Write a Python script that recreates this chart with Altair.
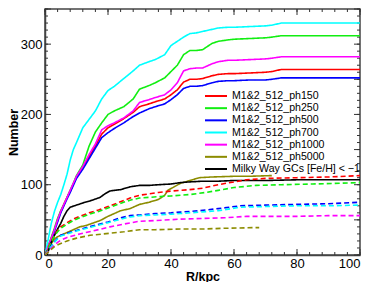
import altair as alt
import pandas as pd

# ---------------- data ----------------
names = ["M1&2_512_ph150", "M1&2_512_ph250", "M1&2_512_ph500", "M1&2_512_ph700",
         "M1&2_512_ph1000", "M1&2_512_ph5000", "Milky Way GCs [Fe/H] < \u22121"]
colors = ["#ff0000", "#11ee11", "#0000ff", "#00ffff", "#ff00ff", "#8c8c00", "#000000"]

R_main = [0, 1, 2, 3, 4, 5, 6, 7, 8, 9, 10, 12, 14, 16, 18, 20, 22, 25, 28, 30, 33, 35, 38,
          40, 42, 44, 46, 48, 50, 53, 55, 58, 60, 65, 70, 72, 75, 80, 90, 100]
N_ph150 = [0, 12, 24, 36, 50, 62, 72, 82, 91, 101, 111, 125, 140, 155, 172, 181, 186, 194, 203,
           211, 215, 218, 222, 228, 235, 246, 250, 250, 251, 255, 257, 258, 258, 259, 260, 261,
           264, 264, 264, 264]
N_ph250 = [0, 12, 25, 38, 52, 63, 72, 82, 92, 102, 113, 128, 155, 175, 188, 200, 205, 211, 222,
           236, 241, 245, 252, 261, 270, 285, 291, 291, 292, 301, 304, 306, 307, 308, 309, 310,
           312, 312, 312, 312]
N_ph500 = [0, 10, 22, 34, 47, 60, 70, 80, 89, 99, 109, 122, 137, 152, 167, 174, 180, 188, 197,
           202, 208, 211, 215, 221, 228, 237, 240, 240, 241, 245, 247, 248, 248, 249, 249, 250,
           252, 252, 252, 252]
N_ph700 = [0, 22, 45, 62, 75, 86, 100, 115, 135, 150, 160, 181, 193, 205, 222, 234, 240, 251, 262,
           270, 275, 278, 285, 298, 304, 310, 315, 316, 318, 321, 323, 324, 324, 325, 326, 327,
           330, 330, 330, 330]
N_ph1000 = [0, 12, 24, 36, 50, 62, 72, 82, 92, 102, 112, 126, 143, 158, 178, 184, 188, 195, 205,
            217, 221, 224, 228, 235, 245, 262, 265, 266, 266, 272, 275, 277, 277, 278, 279, 280,
            282, 282, 282, 282]

R_ph5000 = [0, 1, 2, 3, 4, 5, 7, 9, 11, 13, 15, 17.5, 20, 22, 24, 27, 30, 33, 36, 38, 39, 41,
            43, 46, 49, 53, 60, 65, 72]
N_ph5000 = [0, 8, 16, 23, 26, 28, 32, 36, 40, 42, 45, 49, 55, 59, 63, 66, 72, 75, 79, 85, 92, 97,
            102, 106, 110, 111, 112, 112, 113]

R_mw = [0, 0.6, 1, 2, 3, 4, 5, 6, 7, 8, 10, 12, 15, 17.5, 19, 20.6, 22, 24, 27, 30, 33, 36, 40,
        43, 46, 50, 55, 60, 70, 80, 90, 100]
N_mw = [0, 0, 5, 18, 28, 37, 45, 55, 63, 68, 71, 74, 78, 82, 87, 91, 92, 93, 97, 99, 99, 100,
        101, 103, 104, 105, 105, 106, 106, 107, 107, 107]

# dashed curves
R_d150 = [0, 1, 2, 3, 4, 5, 7, 9, 11, 14, 17, 20, 23, 27, 30, 33, 36, 40, 43, 46, 50, 55, 60, 64,
          70, 80, 90, 100]
N_d150 = [0, 10, 20, 28, 35, 40, 46, 51, 55, 60, 64, 69, 74, 81, 85, 87, 89, 91, 92, 93, 95, 100,
          104, 107, 109, 110, 111, 113]
R_d250 = [0, 1, 2, 3, 4, 5, 7, 9, 11, 14, 17, 20, 23, 27, 30, 33, 36, 40, 43, 46, 51, 55, 60, 67,
          75, 85, 100]
N_d250 = [0, 9, 19, 27, 33, 38, 44, 49, 53, 58, 62, 67, 72, 78, 81, 82, 83, 84, 85, 86, 89, 92,
          96, 99, 100, 101, 103]
R_d500 = [0, 1, 2, 3, 4, 5, 7, 10, 14, 17.5, 20, 24, 27, 30, 35, 40, 43, 49, 55, 62, 70, 80, 90,
          100]
N_d500 = [0, 6, 13, 19, 24, 28, 31, 35, 40, 44, 47, 53, 56, 57, 59, 60, 61, 63, 66, 70, 71, 72,
          73, 75]
R_d700 = [0, 1, 2, 3, 4, 5, 7, 10, 14, 17.5, 20, 24, 27, 30, 35, 40, 43, 49, 55, 62, 70, 80, 90,
          100]
N_d700 = [0, 6, 12, 18, 23, 27, 30, 34, 39, 43, 46, 51, 54, 56, 57, 58, 59, 61, 63, 68, 69, 70,
          70, 71]
R_d1000 = [0, 1, 2, 3, 4, 5, 7, 11, 15, 20.6, 25, 30, 35, 43, 50, 57, 64, 70, 80, 90, 100]
N_d1000 = [0, 5, 10, 14, 18, 21, 25, 30, 34, 40, 44, 48, 49, 51, 52, 53, 55, 55, 55, 56, 56]
R_d5000 = [0, 1, 2, 3, 4.8, 7, 10, 14.3, 20.6, 25, 30, 35, 43, 50, 57, 67, 68]
N_d5000 = [0, 4, 8, 12, 16, 20, 24, 28, 31, 33, 36, 36, 37, 37, 38, 39, 39]

x_major = [0, 20, 40, 60, 80, 100]
x_minor = list(range(0, 101, 4))
y_major = [0, 50, 100, 150, 200, 250, 300, 350]
y_minor = list(range(0, 351, 10))

# ---------------- build long table ----------------
curves = [
    (names[0], "solid", R_main, N_ph150),
    (names[1], "solid", R_main, N_ph250),
    (names[2], "solid", R_main, N_ph500),
    (names[3], "solid", R_main, N_ph700),
    (names[4], "solid", R_main, N_ph1000),
    (names[5], "solid", R_ph5000, N_ph5000),
    (names[6], "solid", R_mw, N_mw),
    (names[0], "dashed", R_d150, N_d150),
    (names[1], "dashed", R_d250, N_d250),
    (names[2], "dashed", R_d500, N_d500),
    (names[3], "dashed", R_d700, N_d700),
    (names[4], "dashed", R_d1000, N_d1000),
    (names[5], "dashed", R_d5000, N_d5000),
]
rows = []
for name, style, rs, ns in curves:
    for i, (r, n) in enumerate(zip(rs, ns)):
        rows.append({"R": r, "N": n, "series": name, "style": style,
                     "key": name + "_" + style, "i": i})
df = pd.DataFrame(rows)
leg_df = pd.DataFrame({"series": names})

W, H = 315, 246
xs = alt.Scale(domain=[0, 100], nice=False, zero=False)
ys = alt.Scale(domain=[0, 350], nice=False, zero=False)
cs = alt.Scale(domain=names, range=colors)
font = "Liberation Sans"

lines = alt.Chart(df).mark_line(strokeWidth=1.6, clip=True).encode(
    x=alt.X("R:Q", scale=xs,
            axis=alt.Axis(title="R/kpc", values=x_major, ticks=False, labelPadding=2,
                          titleFontWeight="bold", titleFontSize=12.5, titlePadding=0,
                          labelFontSize=13, grid=False)),
    y=alt.Y("N:Q", scale=ys,
            axis=alt.Axis(title="Number", values=y_major, ticks=False, labelPadding=3,
                          titleFontWeight="bold", titleFontSize=12.5, titlePadding=0,
                          labelFontSize=13, grid=False)),
    color=alt.Color("series:N", scale=cs, legend=None),
    strokeDash=alt.StrokeDash("style:N",
                              scale=alt.Scale(domain=["solid", "dashed"],
                                              range=[[1, 0], [5, 3]]),
                              legend=None),
    detail="key:N",
    order="i:Q",
)

# legend built from the series names
ly = alt.Y("series:N", scale=alt.Scale(type="point", domain=names, range=[87, 160], padding=0),
           axis=None)
leg_lines = alt.Chart(leg_df).mark_rule(strokeWidth=2).encode(
    y=ly, x=alt.value(160), x2=alt.value(182),
    color=alt.Color("series:N", scale=cs, legend=None))
leg_text = alt.Chart(leg_df).mark_text(align="left", baseline="middle", fontSize=10.6,
                                       font=font, color="black").encode(
    y=ly, x=alt.value(187), text="series:N")
legend = alt.layer(leg_lines, leg_text)


def xticks(d, L):
    b = alt.Chart(d).mark_rule(color="#333", strokeWidth=1).encode(
        x=alt.X("v:Q", scale=xs), y=alt.value(H), y2=alt.value(H - L))
    t = alt.Chart(d).mark_rule(color="#333", strokeWidth=1).encode(
        x=alt.X("v:Q", scale=xs), y=alt.value(0), y2=alt.value(L))
    return b + t


def yticks(d, L):
    l = alt.Chart(d).mark_rule(color="#333", strokeWidth=1).encode(
        y=alt.Y("v:Q", scale=ys), x=alt.value(0), x2=alt.value(L))
    r = alt.Chart(d).mark_rule(color="#333", strokeWidth=1).encode(
        y=alt.Y("v:Q", scale=ys), x=alt.value(W), x2=alt.value(W - L))
    return l + r


xt_maj = pd.DataFrame({"v": x_major})
xt_min = pd.DataFrame({"v": x_minor})
yt_maj = pd.DataFrame({"v": y_major})
yt_min = pd.DataFrame({"v": y_minor})

main = alt.layer(
    xticks(xt_min, 3), xticks(xt_maj, 6), yticks(yt_min, 3), yticks(yt_maj, 6), lines
)

chart = alt.layer(main, legend).resolve_scale(y="independent").properties(
    width=W, height=H,
    autosize=alt.AutoSizeParams(type="none"),
    padding={"left": 37, "top": 1, "right": 6, "bottom": 27},
).configure_axis(
    labelFont=font, titleFont=font, domainColor="#444", domainWidth=1.5,
    labelColor="black", titleColor="black",
).configure_view(
    stroke="#444", strokeWidth=1.5
)

chart.save("out.html", embed_options={"renderer": "svg", "actions": False})
